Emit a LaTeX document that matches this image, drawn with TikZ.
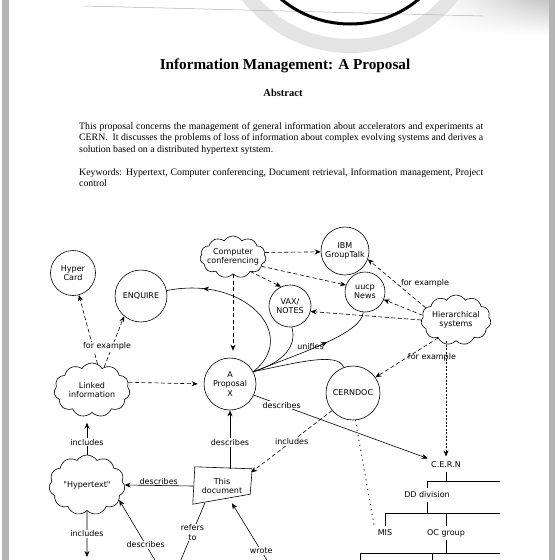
\documentclass[tikz,border=0pt]{standalone}
\usepackage{fontspec}
\setmainfont{Liberation Serif}
\newfontfamily\sketchfont{DejaVu Sans}
\usepackage{tikz}
\usetikzlibrary{arrows.meta,calc,decorations.markings,fadings,positioning,shapes.symbols}
\usepackage{xcolor}
\definecolor{pageedge}{HTML}{B4B4B4}
\definecolor{lensgrey}{HTML}{E4E4E4}

\begin{document}
\begin{tikzpicture}[x=1pt,y=-1pt,
  hand/.style={font=\sketchfont\fontsize{8}{9.5}\selectfont},
  bubble/.style={draw,circle,hand,align=center,inner sep=0.5pt,line width=0.6pt},
  puff/.style={draw,cloud,cloud puffs=11,cloud puff arc=115,cloud ignores aspect,hand,align=center,inner sep=-12pt,line width=0.6pt},
  tag/.style={hand,inner sep=1pt},
  link/.style={-{Stealth[length=6pt,width=5pt]},line width=0.6pt},
  dlink/.style={link,dash pattern=on 4pt off 2.5pt},
  midtip/.style={postaction={decorate},decoration={markings,mark=at position #1 with {\arrow{Stealth[length=6pt,width=5pt]}}}}]
  \clip (0,0) rectangle (560,560);
  \fill[white] (0,0) rectangle (560,560);
  \shade[left color=white,right color=gray!45,path fading=south] (440,0) rectangle (549,34);
  \draw[lensgrey,line width=14pt] (350,-84) circle (130);
  \draw[gray!60,line width=0.5pt] (84,6) -- (483,16);
  \draw[line width=3pt] (350,-84) circle (108);
  \fill[pageedge] (2,0) rectangle (9,560);
  \fill[pageedge] (549,0) rectangle (555,560);

  \node[font=\bfseries\fontsize{15.2}{18}\selectfont] (title) at (285,66) {Information Management: A Proposal};
  \node[font=\bfseries\fontsize{10.5}{12}\selectfont] (abstract) at (283,93) {Abstract};
  \node[anchor=north west,text width=404pt,align=justify,inner sep=0pt,font=\fontsize{9.8}{11.5}\selectfont] (summary) at (79,122) {This proposal concerns the management of general information about accelerators and experiments at\linebreak CERN.\ \ It discusses the problems of loss of information about complex evolving systems and derives a\linebreak solution based on a distributed hypertext sytstem.};
  \node[anchor=north west,text width=404pt,align=justify,inner sep=0pt,font=\fontsize{9.8}{11.5}\selectfont] (keywords) at (79,168) {Keywords: Hypertext, Computer conferencing, Document retrieval, Information management, Project\linebreak control};

  \node[puff,minimum width=66pt,minimum height=42pt] (conf) at (233,257) {Computer\\conferencing};
  \node[bubble,minimum size=48pt] (ibm) at (345,251) {IBM\\GroupTalk};
  \node[bubble,minimum size=40pt] (uucp) at (365,292) {uucp\\News};
  \node[bubble,minimum size=42pt] (vax) at (290,306) {VAX/\\NOTES};
  \node[puff,minimum width=70pt,minimum height=50pt] (hier) at (456,320) {Hierarchical\\systems};
  \node[bubble,minimum size=45pt] (hyper) at (73,273) {Hyper\\Card};
  \node[bubble,minimum size=52pt] (enquire) at (141,296) {ENQUIRE};
  \node[puff,minimum width=76pt,minimum height=54pt] (linked) at (92,390) {Linked\\information};
  \node[bubble,minimum size=52pt] (proposal) at (230,384) {A\\Proposal\\X};
  \node[bubble,minimum size=54pt] (cerndoc) at (353,393) {CERNDOC};
  \node[hand,align=center,minimum width=58pt,minimum height=34pt] (thisdoc) at (222,486) {This\\document};
  \draw[line width=0.6pt] ($(thisdoc.north west)+(2,-2)$) -- ($(thisdoc.north east)+(1,0)$) -- ($(thisdoc.south east)+(-1,-9)$) -- ($(thisdoc.south west)+(0,1)$) -- cycle;
  \node[puff,minimum width=76pt,minimum height=60pt] (hypertext) at (87,485) {"Hypertext"};
  \node[hand] (cern) at (446,465) {C.E.R.N};
  \node[hand] (dd) at (427,495) {DD division};
  \node[hand] (mis) at (385,533) {MIS};
  \node[hand] (oc) at (446,533) {OC group};
  \coordinate (fan) at (proposal.28);
  \coordinate (hyperbelow) at (87,557);
  \coordinate (descbelow) at (156,562);
  \coordinate (refbelow) at (180,562);
  \coordinate (wrotebelow) at (268,562);

  \draw[dlink] (conf.8) -- (ibm.182);
  \draw[dlink] (conf.-18) -- (uucp.160);
  \draw[dlink] (conf.-40) -- (vax.115);
  \draw[dlink,shorten >=7pt] (conf.south) -- (conf.south |- proposal.north);
  \draw[dlink] (hier.158) -- (ibm.-20) node[midway,tag,right,xshift=3pt] {for example};
  \draw[dlink] (hier.172) -- (uucp.-22);
  \draw[dlink] (hier.180) -- (vax.-15);
  \draw[dlink] (hier.-135) -- (cerndoc.35) node[midway,tag,right] {for example};
  \draw[link,dash pattern=on 2pt off 1.5pt,shorten >=2pt] (cern.north |- hier.south) -- (cern.north);
  \draw[dlink] (linked.78) -- (hyper.-75);
  \draw[dlink] (linked.62) -- (enquire.-130) node[pos=0.4,tag,fill=white,xshift=-5pt] {for example};
  \draw[dlink,shorten >=6pt] (linked.12) -- (proposal.west);

  \draw[line width=0.6pt,midtip=0.78] (fan) .. controls (300,335) and (245,275) .. (enquire.12);
  \draw[line width=0.6pt] (fan) .. controls (285,362) and (297,345) .. (vax.-85);
  \draw[line width=0.6pt,midtip=0.62] (fan) .. controls (310,350) and (362,332) .. (uucp.-95) node[pos=0.36,tag,above=-1pt] {unifies};
  \draw[line width=0.6pt] (fan) .. controls (300,362) and (338,352) .. (cerndoc.110);
  \draw[link] (proposal.-25) -- (cern.north west) node[pos=0.16,tag,fill=white] {describes};
  \draw[dlink] (cerndoc.-140) -- (thisdoc.25) node[midway,tag,fill=white] {includes};
  \draw[line width=0.9pt,dash pattern=on 1pt off 4pt] (cerndoc.-85) -- (mis.north west);

  \draw[link] (thisdoc.north -| proposal.south) -- (proposal.south) node[pos=0.45,tag,fill=white] {describes};
  \draw[link] (thisdoc.west) -- (hypertext.east) node[midway,tag,above] {describes};
  \draw[link,shorten >=10pt] (hypertext.north) -- (hypertext.north |- linked.south) node[pos=0.3,tag,fill=white] {includes};
  \draw[link] (hypertext.south) -- (hyperbelow) node[midway,tag,fill=white] {includes};
  \draw[link] (descbelow) -- (hypertext.-25) node[pos=0.28,tag,fill=white] {describes};
  \draw[line width=0.6pt] (refbelow) -- (thisdoc.-135) node[midway,tag,fill=white,align=center] {refers\\to};
  \draw[link] (wrotebelow) -- (thisdoc.-60) node[pos=0.19,tag,fill=white] {wrote};

  \draw[line width=0.6pt] (cern.south) -- (cern.south |- 0,481) (dd.north) |- (500,481);
  \draw[line width=0.6pt] (dd.south) -- (dd.south |- 0,513) (mis.north) |- (500,513) (oc.north) -- (oc.north |- 0,513);
  \draw[line width=0.6pt] (oc.south) -- (oc.south |- 0,553) (360,566) |- (500,553) (432,553) -- (432,566);
\end{tikzpicture}
\end{document}
